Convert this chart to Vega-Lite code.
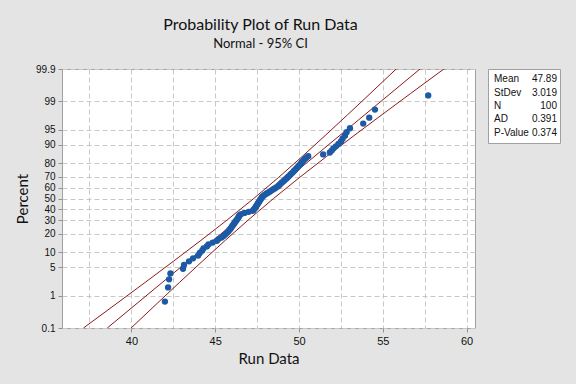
{
  "$schema": "https://vega.github.io/schema/vega-lite/v6.json",
  "background": "#e4e4e4",
  "padding": {"left": 15, "top": 16, "right": 17, "bottom": 17},
  "config": {"view": {"stroke": "#a0a0a0", "fill": "white"}, "font": "Lato"},
  "datasets": {
    "points": [
      {"x": 42.00, "z": -2.459}, {"x": 42.19, "z": -2.122}, {"x": 42.25, "z": -1.929}, {"x": 42.33, "z": -1.788},
      {"x": 43.08, "z": -1.676}, {"x": 43.14, "z": -1.582}, {"x": 43.44, "z": -1.500}, {"x": 43.68, "z": -1.428},
      {"x": 43.98, "z": -1.361}, {"x": 44.08, "z": -1.301}, {"x": 44.22, "z": -1.245}, {"x": 44.30, "z": -1.193},
      {"x": 44.50, "z": -1.143}, {"x": 44.60, "z": -1.097}, {"x": 44.85, "z": -1.052}, {"x": 45.10, "z": -1.010},
      {"x": 45.20, "z": -0.969}, {"x": 45.38, "z": -0.930}, {"x": 45.50, "z": -0.892}, {"x": 45.62, "z": -0.855},
      {"x": 45.70, "z": -0.820}, {"x": 45.78, "z": -0.785}, {"x": 45.85, "z": -0.752}, {"x": 45.91, "z": -0.719},
      {"x": 45.97, "z": -0.687}, {"x": 46.02, "z": -0.656}, {"x": 46.08, "z": -0.625}, {"x": 46.13, "z": -0.595},
      {"x": 46.18, "z": -0.566}, {"x": 46.24, "z": -0.536}, {"x": 46.29, "z": -0.508}, {"x": 46.34, "z": -0.480},
      {"x": 46.38, "z": -0.452}, {"x": 46.42, "z": -0.424}, {"x": 46.46, "z": -0.397}, {"x": 46.55, "z": -0.371},
      {"x": 46.75, "z": -0.344}, {"x": 47.00, "z": -0.318}, {"x": 47.25, "z": -0.292}, {"x": 47.30, "z": -0.266},
      {"x": 47.35, "z": -0.240}, {"x": 47.40, "z": -0.214}, {"x": 47.44, "z": -0.189}, {"x": 47.48, "z": -0.163},
      {"x": 47.52, "z": -0.138}, {"x": 47.56, "z": -0.113}, {"x": 47.60, "z": -0.088}, {"x": 47.64, "z": -0.062},
      {"x": 47.68, "z": -0.038}, {"x": 47.72, "z": -0.013}, {"x": 47.76, "z": 0.013}, {"x": 47.80, "z": 0.038},
      {"x": 47.87, "z": 0.062}, {"x": 47.95, "z": 0.088}, {"x": 48.05, "z": 0.113}, {"x": 48.15, "z": 0.138},
      {"x": 48.25, "z": 0.163}, {"x": 48.35, "z": 0.189}, {"x": 48.45, "z": 0.214}, {"x": 48.55, "z": 0.240},
      {"x": 48.65, "z": 0.266}, {"x": 48.75, "z": 0.292}, {"x": 48.82, "z": 0.318}, {"x": 48.88, "z": 0.344},
      {"x": 48.95, "z": 0.371}, {"x": 49.03, "z": 0.397}, {"x": 49.10, "z": 0.424}, {"x": 49.18, "z": 0.452},
      {"x": 49.25, "z": 0.480}, {"x": 49.33, "z": 0.508}, {"x": 49.40, "z": 0.536}, {"x": 49.48, "z": 0.566},
      {"x": 49.55, "z": 0.595}, {"x": 49.63, "z": 0.625}, {"x": 49.70, "z": 0.656}, {"x": 49.78, "z": 0.687},
      {"x": 49.85, "z": 0.719}, {"x": 49.93, "z": 0.752}, {"x": 50.00, "z": 0.785}, {"x": 50.08, "z": 0.820},
      {"x": 50.15, "z": 0.855}, {"x": 50.23, "z": 0.892}, {"x": 50.32, "z": 0.930}, {"x": 50.42, "z": 0.969},
      {"x": 50.55, "z": 1.010}, {"x": 51.44, "z": 1.052}, {"x": 51.84, "z": 1.097}, {"x": 51.95, "z": 1.143},
      {"x": 52.05, "z": 1.193}, {"x": 52.20, "z": 1.245}, {"x": 52.35, "z": 1.301}, {"x": 52.50, "z": 1.361},
      {"x": 52.60, "z": 1.428}, {"x": 52.74, "z": 1.500}, {"x": 52.84, "z": 1.582}, {"x": 53.04, "z": 1.676},
      {"x": 53.83, "z": 1.788}, {"x": 54.19, "z": 1.929}, {"x": 54.53, "z": 2.122}, {"x": 57.71, "z": 2.459}
    ],
    "ci": [
      {"series": "lower", "x": 37.139, "z": -3.0902}, {"series": "lower", "x": 39.141, "z": -2.5},
      {"series": "lower", "x": 40.827, "z": -2.0}, {"series": "lower", "x": 42.499, "z": -1.5},
      {"series": "lower", "x": 44.146, "z": -1.0}, {"series": "lower", "x": 45.753, "z": -0.5},
      {"series": "lower", "x": 47.298, "z": 0.0}, {"series": "lower", "x": 48.772, "z": 0.5},
      {"series": "lower", "x": 50.184, "z": 1.0}, {"series": "lower", "x": 51.556, "z": 1.5},
      {"series": "lower", "x": 52.903, "z": 2.0}, {"series": "lower", "x": 54.236, "z": 2.5},
      {"series": "lower", "x": 55.797, "z": 3.0902},
      {"series": "fit", "x": 38.561, "z": -3.0902}, {"series": "fit", "x": 57.219, "z": 3.0902},
      {"series": "upper", "x": 39.983, "z": -3.0902}, {"series": "upper", "x": 41.544, "z": -2.5},
      {"series": "upper", "x": 42.877, "z": -2.0}, {"series": "upper", "x": 44.224, "z": -1.5},
      {"series": "upper", "x": 45.596, "z": -1.0}, {"series": "upper", "x": 47.008, "z": -0.5},
      {"series": "upper", "x": 48.482, "z": 0.0}, {"series": "upper", "x": 50.027, "z": 0.5},
      {"series": "upper", "x": 51.634, "z": 1.0}, {"series": "upper", "x": 53.281, "z": 1.5},
      {"series": "upper", "x": 54.953, "z": 2.0}, {"series": "upper", "x": 56.639, "z": 2.5},
      {"series": "upper", "x": 58.641, "z": 3.0902}
    ],
    "stats": [
      {"stat": "Mean", "val": "47.89"},
      {"stat": "StDev", "val": "3.019"},
      {"stat": "N", "val": "100"},
      {"stat": "AD", "val": "0.391"},
      {"stat": "P-Value", "val": "0.374"}
    ]
  },
  "hconcat": [
    {
      "width": 413,
      "height": 259,
      "title": {
        "text": "Probability Plot of Run Data",
        "subtitle": "Normal - 95% CI",
        "font": "Lato",
        "fontSize": 16,
        "fontWeight": "normal",
        "color": "#111111",
        "subtitleFont": "Lato",
        "subtitleFontSize": 13,
        "subtitleColor": "#111111",
        "subtitlePadding": 5,
        "anchor": "middle",
        "dx": -8,
        "offset": 13
      },
      "layer": [
        {
          "data": {"name": "ci"},
          "mark": {"type": "line", "color": "#8b1a1a", "strokeWidth": 1, "clip": true},
          "encoding": {
            "x": {
              "field": "x", "type": "quantitative",
              "scale": {"domain": [35.86, 60.5], "nice": false, "zero": false},
              "axis": {"orient": "bottom", "values": [37.5, 40, 42.5, 45, 47.5, 50, 52.5, 55, 57.5, 60], "grid": true, "gridColor": "#c8c8c8", "gridDash": [5, 3], "labels": false, "ticks": false, "domain": false, "title": null}
            },
            "y": {
              "field": "z", "type": "quantitative",
              "scale": {"domain": [-3.0902, 3.0902], "nice": false, "zero": false},
              "axis": {
                "values": [-3.0902, -2.3263, -1.6449, -1.2816, -0.8416, -0.5244, -0.2533, 0, 0.2533, 0.5244, 0.8416, 1.2816, 1.6449, 2.3263, 3.0902],
                "labelExpr": "datum.value > 3 ? '99.9' : datum.value > 2.3 ? '99' : datum.value > 1.6 ? '95' : datum.value > 1.2 ? '90' : datum.value > 0.8 ? '80' : datum.value > 0.5 ? '70' : datum.value > 0.2 ? '60' : datum.value > -0.1 ? '50' : datum.value > -0.3 ? '40' : datum.value > -0.6 ? '30' : datum.value > -1 ? '20' : datum.value > -1.5 ? '10' : datum.value > -2 ? '5' : datum.value > -3 ? '1' : '0.1'",
                "grid": true, "gridColor": "#c8c8c8", "gridDash": [5, 3],
                "domain": false, "tickColor": "#909090", "tickSize": 4,
                "labelFont": "Liberation Sans", "labelFontSize": 10, "labelColor": "#111111", "labelPadding": 3,
                "title": "Percent", "titleFont": "Lato", "titleFontSize": 15, "titleFontWeight": "normal", "titleColor": "#111111", "titlePadding": 5
              }
            },
            "detail": {"field": "series", "type": "nominal"},
            "order": {"field": "z", "type": "quantitative"}
          }
        },
        {
          "data": {"name": "points"},
          "mark": {"type": "circle", "size": 40, "color": "#1c5aa6", "opacity": 1},
          "encoding": {
            "x": {
              "field": "x", "type": "quantitative",
              "axis": {"orient": "bottom", "values": [40, 45, 50, 55, 60], "grid": false, "domain": false, "tickColor": "#909090", "tickSize": 4,
                "labelFont": "Liberation Sans", "labelFontSize": 11, "labelColor": "#111111", "labelPadding": 3,
                "title": "Run Data", "titleFont": "Lato", "titleFontSize": 15, "titleFontWeight": "normal", "titleColor": "#111111", "titlePadding": 5}
            },
            "y": {
              "field": "z", "type": "quantitative",
              "axis": {
                "values": [-3.0902, -2.3263, -1.6449, -1.2816, -0.8416, -0.5244, -0.2533, 0, 0.2533, 0.5244, 0.8416, 1.2816, 1.6449, 2.3263, 3.0902],
                "labelExpr": "datum.value > 3 ? '99.9' : datum.value > 2.3 ? '99' : datum.value > 1.6 ? '95' : datum.value > 1.2 ? '90' : datum.value > 0.8 ? '80' : datum.value > 0.5 ? '70' : datum.value > 0.2 ? '60' : datum.value > -0.1 ? '50' : datum.value > -0.3 ? '40' : datum.value > -0.6 ? '30' : datum.value > -1 ? '20' : datum.value > -1.5 ? '10' : datum.value > -2 ? '5' : datum.value > -3 ? '1' : '0.1'",
                "grid": true, "gridColor": "#c8c8c8", "gridDash": [5, 3],
                "domain": false, "tickColor": "#909090", "tickSize": 4,
                "labelFont": "Liberation Sans", "labelFontSize": 10, "labelColor": "#111111", "labelPadding": 3,
                "title": "Percent", "titleFont": "Lato", "titleFontSize": 15, "titleFontWeight": "normal", "titleColor": "#111111", "titlePadding": 5
              }
            }
          }
        }
      ],
      "resolve": {"axis": {"x": "independent"}}
    },
    {
      "data": {"name": "stats"},
      "width": 72,
      "height": 74,
      "layer": [
        {
          "mark": {"type": "text", "align": "left", "baseline": "middle", "font": "Liberation Sans", "fontSize": 10, "color": "#111111"},
          "encoding": {
            "y": {"field": "stat", "type": "nominal", "sort": null, "scale": {"type": "point", "padding": 0.79}, "axis": null},
            "x": {"datum": "label", "type": "nominal", "scale": {"type": "point", "domain": ["label", "value"], "range": [6, 69], "padding": 0}, "axis": null},
            "text": {"field": "stat"}
          }
        },
        {
          "mark": {"type": "text", "align": "right", "baseline": "middle", "font": "Liberation Sans", "fontSize": 10, "color": "#111111"},
          "encoding": {
            "y": {"field": "stat", "type": "nominal", "sort": null, "scale": {"type": "point", "padding": 0.79}, "axis": null},
            "x": {"datum": "value", "type": "nominal", "scale": {"type": "point", "domain": ["label", "value"], "range": [6, 69], "padding": 0}, "axis": null},
            "text": {"field": "val"}
          }
        }
      ]
    }
  ],
  "spacing": 13,
  "bounds": "flush"
}
